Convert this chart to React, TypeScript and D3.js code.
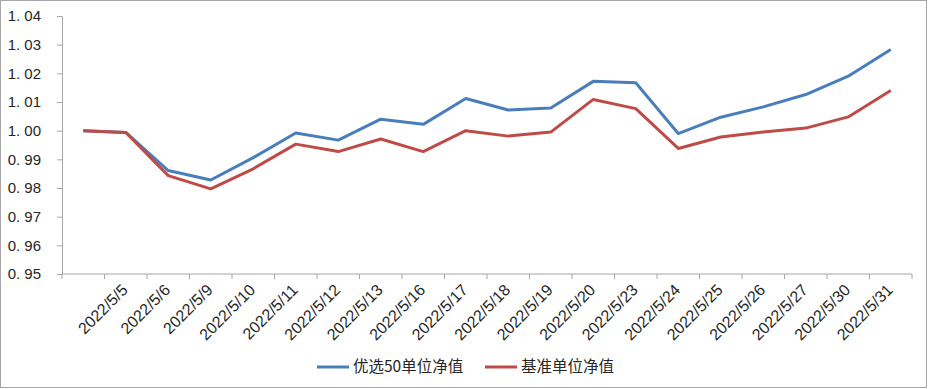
import React, { useEffect, useRef } from "react";
import * as d3 from "d3";

// first category is the starting point, it has no label
const dates = [
  "",
  "2022/5/5",
  "2022/5/6",
  "2022/5/9",
  "2022/5/10",
  "2022/5/11",
  "2022/5/12",
  "2022/5/13",
  "2022/5/16",
  "2022/5/17",
  "2022/5/18",
  "2022/5/19",
  "2022/5/20",
  "2022/5/23",
  "2022/5/24",
  "2022/5/25",
  "2022/5/26",
  "2022/5/27",
  "2022/5/30",
  "2022/5/31",
];
const fundValues = [
  1.0, 0.9994, 0.9861, 0.9828, 0.9906, 0.9992, 0.9967, 1.004, 1.0022, 1.0112, 1.0072, 1.0079, 1.0172, 1.0167, 0.999,
  1.0047, 1.0083, 1.0126, 1.019, 1.0283,
];
const benchValues = [
  1.0, 0.9994, 0.9843, 0.9797, 0.9867, 0.9953, 0.9927, 0.9971, 0.9927, 1.0, 0.9981, 0.9995, 1.0109, 1.0077, 0.9938,
  0.9978, 0.9995, 1.0009, 1.0048, 1.014,
];
const yTicks = [0.95, 0.96, 0.97, 0.98, 0.99, 1.0, 1.01, 1.02, 1.03, 1.04];
const seriesNames = ["优选50单位净值", "基准单位净值"];
const seriesColors = ["#4a7ebb", "#be4b48"];

const width = 929;
const height = 389;
const marginLeft = 62;
const marginRight = 17;
const marginTop = 16;
const marginBottom = 115;
const axisColor = "#a6a6a6";
const fontColor = "#262626";

const App = () => {
  const svgRef = useRef(null);

  useEffect(() => {
    const svg = d3.select(svgRef.current);
    svg.selectAll("*").remove();

    const x = d3
      .scaleBand()
      .domain(dates.map((d, i) => String(i)))
      .range([marginLeft, width - marginRight]);
    const y = d3
      .scaleLinear()
      .domain([0.95, 1.04])
      .range([height - marginBottom, marginTop]);

    // outer frame
    svg
      .append("rect")
      .attr("x", 0.5)
      .attr("y", 0.5)
      .attr("width", width - 3)
      .attr("height", height - 2)
      .attr("fill", "#fff")
      .attr("stroke", "#a6a6a6");

    // y axis
    svg
      .append("g")
      .attr("transform", `translate(${marginLeft},0)`)
      .call(
        d3
          .axisLeft(y)
          .tickValues(yTicks)
          .tickSize(5)
          .tickPadding(16)
          .tickFormat(d => d3.format(".2f")(d).replace(".", ". ")),
      )
      .call(g => g.selectAll("line, path").attr("stroke", axisColor))
      .call(g =>
        g
          .selectAll(".tick text")
          .attr("fill", fontColor)
          .attr("font-size", 15)
          .attr("font-family", "'Liberation Sans', Arial, sans-serif"),
      );

    // x axis, ticks on band boundaries
    const xAxis = svg.append("g").attr("transform", `translate(0,${height - marginBottom})`);
    xAxis
      .append("line")
      .attr("x1", marginLeft)
      .attr("x2", width - marginRight)
      .attr("stroke", axisColor);
    xAxis
      .selectAll(".tk")
      .data(d3.range(dates.length + 1))
      .join("line")
      .attr("x1", i => marginLeft + i * x.bandwidth())
      .attr("x2", i => marginLeft + i * x.bandwidth())
      .attr("y2", 5)
      .attr("stroke", axisColor);
    xAxis
      .selectAll(".lbl")
      .data(dates)
      .join("text")
      .attr("transform", (d, i) => `translate(${x(String(i)) + x.bandwidth() / 2 + 3},17) rotate(-45)`)
      .attr("text-anchor", "end")
      .attr("fill", fontColor)
      .attr("font-size", 16)
      .attr("font-family", "'Liberation Sans', Arial, sans-serif")
      .text(d => d);

    const line = d3
      .line()
      .x((d, i) => x(String(i)) + x.bandwidth() / 2)
      .y(d => y(d));

    [fundValues, benchValues].forEach((vals, k) => {
      svg
        .append("path")
        .datum(vals)
        .attr("fill", "none")
        .attr("stroke", seriesColors[k])
        .attr("stroke-width", 3)
        .attr("stroke-linejoin", "round")
        .attr("d", line);
    });

    // legend
    const legendX = [317, 485];
    const legend = svg.append("g").attr("transform", `translate(0,367)`);
    seriesNames.forEach((name, k) => {
      legend
        .append("line")
        .attr("x1", legendX[k])
        .attr("x2", legendX[k] + 32)
        .attr("stroke", seriesColors[k])
        .attr("stroke-width", 3);
      legend
        .append("text")
        .attr("x", legendX[k] + 36)
        .attr("dy", "0.35em")
        .attr("fill", fontColor)
        .attr("font-size", 15.5)
        .attr("font-family", "'Noto Sans CJK SC', sans-serif")
        .text(name);
    });
  }, []);

  return (
    <svg
      ref={svgRef}
      width={width}
      height={height}
      style={{ position: "absolute", left: 0, top: 0, display: "block" }}
    />
  );
};

export default App;
